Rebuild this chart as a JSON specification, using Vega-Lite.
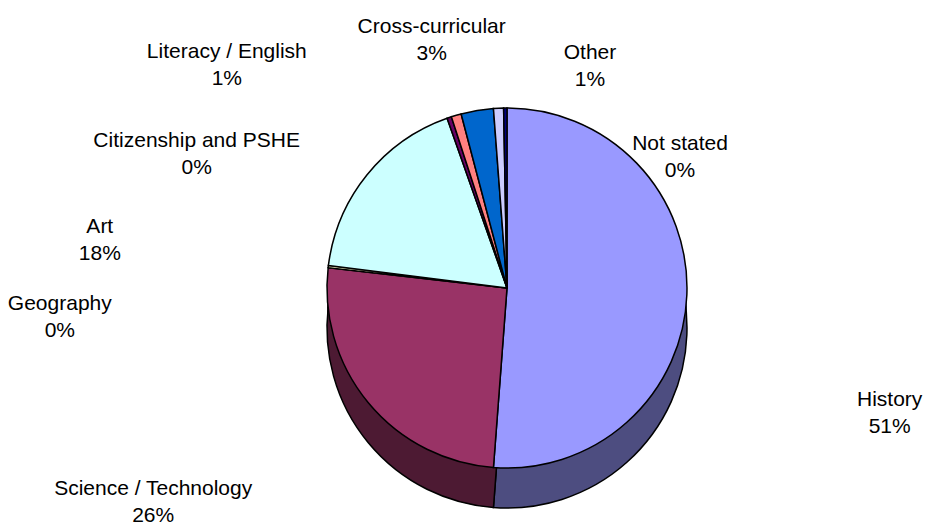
{
  "$schema": "https://vega.github.io/schema/vega-lite/v6.json",
  "width": 926,
  "height": 527,
  "padding": 0,
  "autosize": "none",
  "background": "white",
  "data": {
    "values": [
      {"idx": 1, "category": "History", "value": 51.2, "label": ["History", "51%"]},
      {"idx": 2, "category": "Science / Technology", "value": 25.6, "label": ["Science / Technology", "26%"]},
      {"idx": 3, "category": "Geography", "value": 0.2, "label": ["Geography", "0%"]},
      {"idx": 4, "category": "Art", "value": 17.6, "label": ["Art", "18%"]},
      {"idx": 5, "category": "Citizenship and PSHE", "value": 0.4, "label": ["Citizenship and PSHE", "0%"]},
      {"idx": 6, "category": "Literacy / English", "value": 0.9, "label": ["Literacy / English", "1%"]},
      {"idx": 7, "category": "Cross-curricular", "value": 2.9, "label": ["Cross-curricular", "3%"]},
      {"idx": 8, "category": "Other", "value": 0.9, "label": ["Other", "1%"]},
      {"idx": 9, "category": "Not stated", "value": 0.3, "label": ["Not stated", "0%"]}
    ]
  },
  "encoding": {
    "theta": {"field": "value", "type": "quantitative", "stack": true},
    "order": {"field": "idx", "type": "quantitative"}
  },
  "layer": [
    {
      "mark": {"type": "arc", "outerRadius": 180, "xOffset": 44, "yOffset": 34.5},
      "encoding": {"fill": {"field": "category", "type": "nominal", "legend": null,
        "scale": {"domain": ["History", "Science / Technology", "Geography", "Art", "Citizenship and PSHE", "Literacy / English", "Cross-curricular", "Other", "Not stated"],
                  "range": ["#4D4D80", "#4D1A33", "#808066", "#668080", "#330033", "#804040", "#003366", "#666680", "#000040"]}}}
    },
    {
      "mark": {"type": "arc", "outerRadius": 180, "xOffset": 44, "yOffset": 44.5},
      "encoding": {"fill": {"field": "category", "type": "nominal", "legend": null}}
    },
    {
      "mark": {"type": "arc", "outerRadius": 180, "xOffset": 44, "yOffset": 54.5},
      "encoding": {"fill": {"field": "category", "type": "nominal", "legend": null}}
    },
    {
      "mark": {"type": "arc", "outerRadius": 180, "xOffset": 44, "yOffset": 64.5, "stroke": "black", "strokeWidth": 1.5},
      "encoding": {"fill": {"field": "category", "type": "nominal", "legend": null}}
    },
    {
      "mark": {"type": "arc", "outerRadius": 180, "xOffset": 44, "yOffset": 24.5, "stroke": "black", "strokeWidth": 1.5},
      "encoding": {"color": {"field": "category", "type": "nominal", "legend": null,
        "scale": {"domain": ["History", "Science / Technology", "Geography", "Art", "Citizenship and PSHE", "Literacy / English", "Cross-curricular", "Other", "Not stated"],
                  "range": ["#9999FF", "#993366", "#FFFFCC", "#CCFFFF", "#660066", "#FF8080", "#0066CC", "#CCCCFF", "#000080"]}}}
    },
    {
      "mark": {"type": "text", "radius": 432, "dx": -5, "dy": 120, "align": "center", "baseline": "middle", "fontSize": 21, "lineHeight": 27, "font": "Liberation Sans", "color": "black"},
      "encoding": {"text": {"condition": {"test": "datum.category === 'History'", "field": "label", "type": "nominal"}, "value": ""}}
    },
    {
      "mark": {"type": "text", "radius": 393, "dx": -7, "dy": -25, "align": "center", "baseline": "middle", "fontSize": 21, "lineHeight": 27, "font": "Liberation Sans", "color": "black"},
      "encoding": {"text": {"condition": {"test": "datum.category === 'Science / Technology'", "field": "label", "type": "nominal"}, "value": ""}}
    },
    {
      "mark": {"type": "text", "radius": 394, "dx": -12, "dy": 87, "align": "center", "baseline": "middle", "fontSize": 21, "lineHeight": 27, "font": "Liberation Sans", "color": "black"},
      "encoding": {"text": {"condition": {"test": "datum.category === 'Geography'", "field": "label", "type": "nominal"}, "value": ""}}
    },
    {
      "mark": {"type": "text", "radius": 297, "dx": -132, "dy": 150, "align": "center", "baseline": "middle", "fontSize": 21, "lineHeight": 27, "font": "Liberation Sans", "color": "black"},
      "encoding": {"text": {"condition": {"test": "datum.category === 'Art'", "field": "label", "type": "nominal"}, "value": ""}}
    },
    {
      "mark": {"type": "text", "radius": 188, "dx": -206, "dy": 56, "align": "center", "baseline": "middle", "fontSize": 21, "lineHeight": 27, "font": "Liberation Sans", "color": "black"},
      "encoding": {"text": {"condition": {"test": "datum.category === 'Citizenship and PSHE'", "field": "label", "type": "nominal"}, "value": ""}}
    },
    {
      "mark": {"type": "text", "radius": 256, "dx": -164, "dy": 34, "align": "center", "baseline": "middle", "fontSize": 21, "lineHeight": 27, "font": "Liberation Sans", "color": "black"},
      "encoding": {"text": {"condition": {"test": "datum.category === 'Literacy / English'", "field": "label", "type": "nominal"}, "value": ""}}
    },
    {
      "mark": {"type": "text", "radius": 225, "dx": 6, "dy": -15, "align": "center", "baseline": "middle", "fontSize": 21, "lineHeight": 27, "font": "Liberation Sans", "color": "black"},
      "encoding": {"text": {"condition": {"test": "datum.category === 'Cross-curricular'", "field": "label", "type": "nominal"}, "value": ""}}
    },
    {
      "mark": {"type": "text", "radius": 191, "dx": 136, "dy": -20, "align": "center", "baseline": "middle", "fontSize": 21, "lineHeight": 27, "font": "Liberation Sans", "color": "black"},
      "encoding": {"text": {"condition": {"test": "datum.category === 'Other'", "field": "label", "type": "nominal"}, "value": ""}}
    },
    {
      "mark": {"type": "text", "radius": 104, "dx": 218, "dy": -16, "align": "center", "baseline": "middle", "fontSize": 21, "lineHeight": 27, "font": "Liberation Sans", "color": "black"},
      "encoding": {"text": {"condition": {"test": "datum.category === 'Not stated'", "field": "label", "type": "nominal"}, "value": ""}}
    }
  ],
  "config": {"view": {"stroke": null}}
}
